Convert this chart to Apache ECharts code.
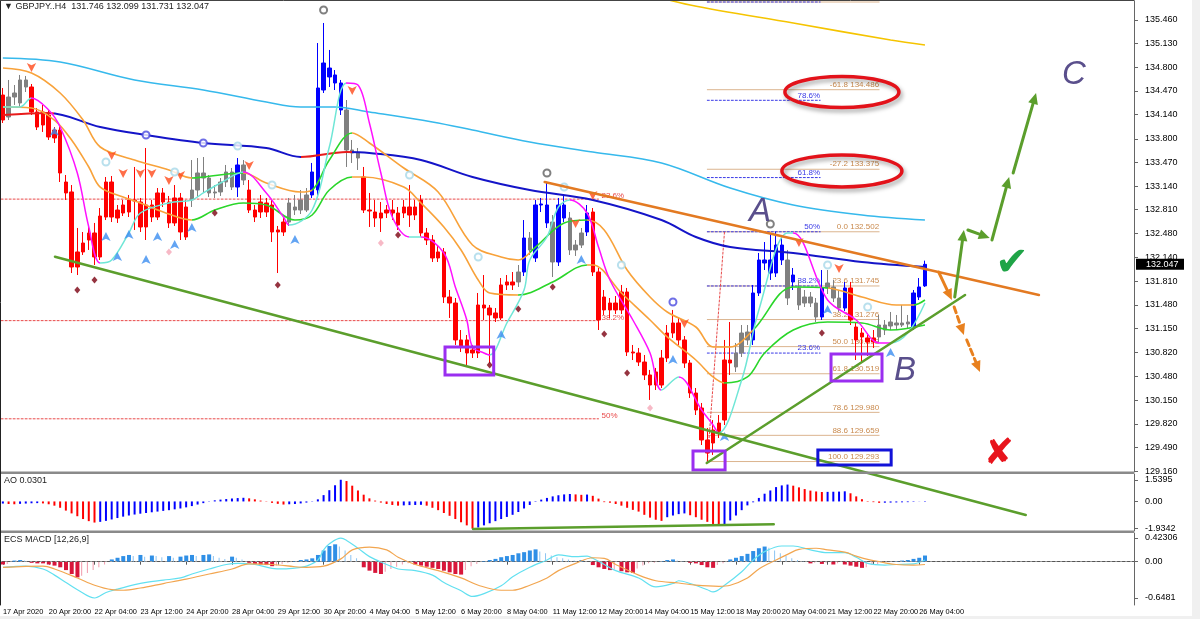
<!DOCTYPE html>
<html><head><meta charset="utf-8">
<script src="https://cdn.jsdelivr.net/npm/echarts@6/dist/echarts.min.js"></script>
<style>html,body{margin:0;padding:0;background:#fff;}#c{width:1200px;height:619px;}</style>
</head><body><div id="c"></div>
<script>
// ---------------- DATA ----------------
const symbolName = 'GBPJPY..H4';
const xTickLabels = ['17 Apr 2020','20 Apr 20:00','22 Apr 04:00','23 Apr 12:00','24 Apr 20:00','28 Apr 04:00','29 Apr 12:00','30 Apr 20:00','4 May 04:00','5 May 12:00','6 May 20:00','8 May 04:00','11 May 12:00','12 May 20:00','14 May 04:00','15 May 12:00','18 May 20:00','20 May 04:00','21 May 12:00','22 May 20:00','26 May 04:00'];
const priceTicks = [135.460,135.130,134.800,134.470,134.140,133.800,133.470,133.140,132.810,132.480,132.140,131.810,131.480,131.150,130.820,130.480,130.150,129.820,129.490,129.160];
const aoTicks = [1.5395, 0, -1.9342];
const aoTickLabels = ['1.5395','0.00','-1.9342'];
const macdTicks = [0.42306, 0, -0.6481];
const macdTickLabels = ['0.42306','0.00','-0.6481'];

const opens = [134.412,134.105,134.384,134.301,134.622,134.524,134.175,133.993,134.133,133.923,
133.923,133.197,133.058,132.010,132.220,132.387,132.485,132.150,132.708,133.197,
132.694,132.764,132.946,132.932,132.918,132.569,132.876,132.708,133.044,132.918,
132.625,132.974,132.429,132.946,133.085,133.323,133.253,133.044,133.058,133.197,
133.337,133.127,133.435,133.085,132.806,132.778,132.904,132.876,132.499,132.499,
132.638,132.848,132.806,132.806,133.016,133.085,134.482,134.789,134.692,134.580,
134.203,133.644,133.602,133.267,132.806,132.778,132.694,132.764,132.806,132.764,
132.764,132.848,132.736,132.946,132.485,132.387,132.136,132.220,131.591,131.507,
130.991,130.991,130.809,130.809,131.479,131.437,131.368,131.298,131.759,131.801,
131.801,131.940,132.415,132.136,132.876,132.625,132.638,132.080,132.694,132.694,
132.248,132.317,132.499,132.778,131.940,131.410,131.507,131.410,131.410,131.661,
130.823,130.809,130.683,130.502,130.362,130.362,130.739,131.088,131.228,130.991,
130.669,130.250,130.041,129.594,129.552,129.692,129.873,130.711,130.614,130.809,
130.991,130.991,131.647,132.066,131.926,131.926,132.108,132.108,131.801,131.717,
131.507,131.591,131.507,131.312,131.717,131.731,131.577,131.437,131.717,131.172,
131.088,131.019,130.963,131.033,131.130,131.186,131.228,131.200,131.214,131.172,
131.591,131.746];
const highs = [134.510,134.622,134.552,134.692,134.678,134.566,134.231,134.273,134.203,133.965,
133.979,133.295,133.155,132.555,132.499,132.597,132.625,132.834,133.267,133.281,
132.876,132.946,133.016,133.407,132.974,133.672,132.946,133.113,133.113,133.002,
133.155,133.044,132.946,133.504,133.532,133.546,133.295,133.155,133.253,133.435,
133.393,133.532,133.504,133.225,132.876,133.016,132.974,132.946,132.583,132.694,
132.974,133.016,133.085,133.113,133.463,135.138,135.418,135.041,134.761,134.622,
134.342,133.784,133.672,133.407,133.044,132.946,132.918,132.876,132.946,132.848,
132.946,133.155,132.946,133.016,132.555,132.457,132.317,132.275,131.689,131.577,
131.130,131.060,130.921,131.647,131.898,131.479,131.437,131.856,131.898,131.940,
132.038,132.666,132.499,132.946,132.974,133.183,132.736,132.974,133.016,132.778,
132.387,132.555,132.876,132.834,131.996,131.689,131.577,131.605,131.759,131.717,
130.921,130.879,130.781,130.572,130.600,130.851,131.200,131.410,131.298,131.046,
130.711,130.320,130.111,129.762,129.873,129.943,130.991,131.242,130.949,131.200,
131.200,131.759,132.206,132.359,132.485,132.502,132.457,132.248,131.996,131.829,
131.689,131.661,131.577,131.968,131.968,131.829,131.689,131.801,131.801,131.242,
131.158,131.088,131.130,131.340,131.270,131.382,131.340,131.479,131.340,131.689,
131.856,132.099];
const lows = [134.021,134.063,134.273,134.231,134.454,134.133,133.923,133.896,133.784,133.742,
133.197,132.946,131.926,131.898,132.178,132.248,132.038,132.108,132.666,132.638,
132.625,132.722,132.708,132.527,132.499,132.387,132.638,132.666,132.848,132.555,
132.583,132.387,132.387,132.848,132.988,133.044,132.988,132.974,133.002,133.127,
133.085,132.988,133.155,132.764,132.638,132.694,132.708,132.359,131.926,132.443,
132.583,132.736,132.750,132.778,132.974,133.016,134.440,134.524,134.482,134.133,
133.407,133.463,133.365,132.764,132.569,132.569,132.499,132.694,132.666,132.527,
132.694,132.569,132.666,132.429,132.317,132.080,132.080,131.507,131.298,130.921,
130.823,130.614,130.739,130.739,131.270,130.669,131.242,131.270,131.689,131.689,
131.731,131.884,132.178,132.080,132.778,132.555,131.870,132.024,132.638,132.178,
132.164,132.275,132.443,131.884,131.130,131.340,131.298,131.354,131.354,130.767,
130.711,130.627,130.432,130.153,130.292,130.320,130.683,131.019,130.921,130.600,
130.181,129.943,129.524,129.293,129.385,129.622,129.803,130.502,130.544,130.753,
130.921,130.921,131.605,131.968,131.829,131.870,132.038,131.479,131.689,131.410,
131.451,131.451,131.242,131.270,131.633,131.521,131.382,131.396,131.200,130.711,
130.683,130.767,130.879,130.963,131.060,131.130,131.130,131.172,131.158,131.130,
131.549,131.731];
const closes = [134.063,134.384,134.440,134.622,134.524,134.175,133.965,134.175,133.826,133.812,
133.323,133.044,132.010,132.220,132.345,132.485,132.150,132.722,133.197,132.708,
132.806,132.876,132.778,132.946,132.569,132.876,132.708,133.044,132.918,132.625,
132.974,132.499,132.848,133.085,133.323,133.253,133.044,133.058,133.197,133.337,
133.127,133.435,133.225,132.806,132.708,132.918,132.778,132.499,132.527,132.638,
132.904,132.806,132.946,133.016,133.337,134.510,134.859,134.664,134.580,134.203,
133.644,133.602,133.532,132.806,132.792,132.694,132.764,132.806,132.764,132.597,
132.848,132.736,132.848,132.485,132.387,132.136,132.220,131.591,131.507,130.991,
130.893,130.809,130.851,131.479,131.437,131.340,131.298,131.759,131.801,131.759,
131.940,132.415,132.248,132.876,132.890,132.876,132.080,132.876,132.876,132.248,
132.317,132.485,132.764,131.940,131.270,131.591,131.410,131.507,131.661,130.823,
130.809,130.683,130.502,130.362,130.544,130.739,131.088,131.228,130.991,130.669,
130.250,130.013,129.594,129.412,129.734,129.831,130.711,130.669,130.809,131.088,
131.102,131.647,132.108,132.108,132.108,132.317,132.317,131.577,131.898,131.479,
131.591,131.507,131.312,131.717,131.787,131.577,131.437,131.717,131.270,130.991,
131.033,130.963,131.019,131.200,131.200,131.242,131.200,131.228,131.242,131.647,
131.731,132.047];
// candle colour state of the trend indicator: r = bearish, b = bullish, g = neutral
const candleTrend = ['r','gggg','rrrrrrrrrrrrrrrrrrrrrrrrrrrr','gggggggg','b','g','rrrrrrr','gggg','bbbbbb','ggg',
 'rrrrrrrrrrrrrrrrrrrrrrrrrrr','g','b','g','bbb','g','bb','ggg','b','rrrrrrrrrrrrrrrrrrrrrrrrr',
 'ggg','bbbbbb','g','b','gggg','b','ggg','b','rrrrr','gggggg','bbb'].join('');

// moving averages: [bar index, price]
const cyanMA = [[0,134.929],[10,134.873],[23,134.622],[35,134.482],[46,134.314],[52,134.245],[58,134.245],[64,134.175],[75,134.035],[82,133.923],[92,133.756],[103,133.616],[115,133.463],[127,133.113],[138,132.876],[150,132.736],[161,132.666]];
const blueMA = [[0,134.133],[8,134.161],[17,133.965],[25,133.854],[35,133.742],[46,133.672],[52,133.546],[60,133.616],[64,133.602],[73,133.504],[82,133.267],[92,133.085],[103,132.946],[115,132.666],[121,132.429],[127,132.289],[138,132.206],[150,132.080],[161,132.010]];
const yellowMA = [[110,135.879],[120,135.669],[138,135.418],[155,135.180],[161,135.111]];
const upperBand = [[0,134.789],[5,134.719],[10,134.440],[14,134.063],[17,133.686],[23,133.504],[29,133.365],[33,133.253],[35,133.267],[42,133.323],[46,133.183],[52,133.058],[54,133.085],[57,133.504],[61,133.882],[64,133.742],[70,133.393],[76,133.058],[82,132.317],[87,132.150],[90,132.108],[93,132.289],[98,132.625],[102,132.666],[105,132.527],[109,131.968],[113,131.591],[116,131.382],[121,131.172],[124,130.893],[127,130.893],[131,131.130],[138,131.731],[144,131.717],[150,131.591],[156,131.479],[159,131.479],[161,131.549]];
const lowerBand = [[0,134.245],[5,134.231],[9,134.063],[12,133.784],[15,133.407],[17,133.127],[21,132.988],[24,132.904],[28,132.778],[33,132.666],[37,132.806],[42,132.904],[46,132.876],[51,132.666],[54,132.736],[57,133.085],[61,133.267],[63,133.267],[70,133.127],[73,132.904],[77,132.569],[80,132.248],[83,131.829],[85,131.647],[90,131.619],[96,131.801],[102,132.038],[103,132.038],[108,131.647],[113,131.270],[116,131.033],[121,130.711],[124,130.474],[126,130.390],[130,130.474],[133,130.809],[138,131.130],[144,131.242],[150,131.228],[155,131.130],[161,131.200]];
const fastLine = [[0,134.245],[3,134.245],[5,134.370],[8,134.203],[10,133.965],[13,133.323],[15,132.569],[17,132.066],[19,132.108],[22,132.485],[24,132.764],[29,132.904],[33,132.946],[35,133.044],[38,133.183],[42,133.337],[46,133.044],[49,132.708],[50,132.597],[54,132.806],[57,133.686],[60,134.580],[62,134.552],[64,134.021],[66,133.323],[68,132.708],[71,132.429],[73,132.429],[77,132.206],[79,131.731],[81,131.270],[82,130.893],[84,130.809],[85,130.781],[88,131.228],[91,131.689],[92,132.108],[95,132.429],[97,132.848],[99,132.946],[102,132.764],[104,132.289],[106,131.829],[110,131.270],[113,130.809],[115,130.292],[118,130.474],[122,130.013],[124,129.803],[125,129.692],[129,130.432],[132,131.410],[137,132.485],[138,132.485],[144,131.549],[149,131.270],[153,130.949],[155,130.949],[158,131.088],[161,131.507]];

// signal markers: [bar index, price]
const upArrows = [[9,133.965],[18,132.499],[20,132.220],[22,132.527],[25,132.178],[27,132.499],[30,132.387],[33,132.625],[51,132.457],[87,131.130],[101,132.178],[117,130.781],[126,129.706],[144,131.479],[155,130.879]];
const downArrows = [[5,134.733],[19,133.504],[21,133.253],[24,133.253],[26,133.253],[29,133.155],[31,133.225],[43,133.365],[61,134.412],[100,132.555],[103,132.946],[119,131.158],[139,132.289],[146,131.926]];
const darkDiamonds = [[13,131.689],[16,131.829],[37,132.764],[48,131.759],[69,132.457],[85,130.641],[90,131.424],[96,131.731],[105,131.075],[109,130.530],[143,131.088]];
const pinkDiamonds = [[29,132.220],[66,132.345],[113,130.041]];
const greyCircles = [[56,135.599],[95,133.323],[134,132.611]];
const blueCircles = [[25,133.854],[35,133.742],[117,131.521]];
const paleCircles = [[18,133.477],[30,133.337],[41,133.700],[47,133.155],[71,133.295],[83,132.150],[98,133.127],[108,132.038],[144,132.038],[151,131.451]];

// Awesome Oscillator
const ao = [-0.15,-0.18,-0.2,-0.17,-0.15,-0.13,-0.12,-0.14,-0.2,-0.3,
-0.45,-0.65,-0.85,-1.05,-1.25,-1.4,-1.5,-1.45,-1.38,-1.28,
-1.18,-1.08,-1.0,-0.93,-0.87,-0.82,-0.77,-0.72,-0.67,-0.62,
-0.56,-0.5,-0.42,-0.33,-0.22,-0.12,0.02,0.08,0.13,0.17,
0.21,0.24,0.26,0.22,0.15,0.06,-0.02,-0.1,-0.17,-0.22,
-0.2,-0.18,-0.14,-0.08,-0.02,0.15,0.45,0.8,1.15,1.5395,
1.45,1.12,0.78,0.48,0.22,0.06,-0.08,-0.18,-0.25,-0.3,
-0.28,-0.26,-0.25,-0.24,-0.3,-0.45,-0.62,-0.82,-1.02,-1.25,
-1.48,-1.7,-1.9342,-1.85,-1.7,-1.55,-1.4,-1.25,-1.1,-0.95,
-0.75,-0.5,-0.25,0.03,0.13,0.25,0.36,0.44,0.5,0.53,
0.5,0.47,0.49,0.4,0.2,-0.05,-0.09,-0.18,-0.3,-0.45,
-0.6,-0.72,-0.95,-1.15,-1.3,-1.38,-1.12,-1.0,-0.9,-0.85,
-0.98,-1.12,-1.3,-1.45,-1.6,-1.72,-1.68,-1.35,-1.0,-0.62,
-0.28,-0.06,0.25,0.55,0.78,1.02,1.14,1.2,1.12,1.0,
0.88,0.77,0.71,0.67,0.68,0.69,0.7,0.72,0.58,0.36,
0.16,0.03,-0.05,-0.1,-0.09,-0.08,-0.07,-0.06,-0.05,-0.03,
-0.01,0.0301];

// ECS MACD histogram + lines
const macdHist = [-0.05,-0.04,0.02,0.03,0.02,-0.02,-0.03,-0.03,-0.05,-0.07,
-0.1,-0.15,-0.22,-0.28,-0.25,-0.2,-0.15,-0.1,-0.05,0.04,
0.07,0.1,0.12,0.1,0.12,0.09,0.11,0.1,0.08,0.1,
0.07,0.09,0.11,0.12,0.1,0.12,0.13,0.1,0.07,0.05,
0.09,0.07,0.04,-0.02,-0.04,-0.05,-0.06,-0.08,-0.07,-0.04,
-0.02,0.01,0.03,0.04,0.06,0.12,0.2,0.28,0.31,0.27,
0.2,0.12,0.06,-0.1,-0.16,-0.2,-0.22,-0.18,-0.13,-0.09,
-0.05,-0.03,-0.05,-0.07,-0.09,-0.11,-0.13,-0.16,-0.19,-0.22,
-0.23,-0.15,-0.08,-0.04,0.01,0.03,0.05,0.08,0.1,0.12,
0.15,0.17,0.2,0.22,0.18,0.15,0.11,0.08,0.06,0.04,
0.02,0.03,0.01,-0.06,-0.1,-0.13,-0.15,-0.14,-0.17,-0.19,
-0.2,-0.12,-0.07,-0.03,-0.02,0.01,0.03,0.04,0.02,0.01,
-0.02,-0.03,-0.06,-0.1,-0.11,-0.06,-0.03,0.04,0.07,0.1,
0.14,0.19,0.24,0.27,0.25,0.2,0.15,0.1,0.06,0.03,
0.01,-0.03,-0.02,-0.04,-0.02,-0.05,-0.03,-0.05,-0.07,-0.09,
-0.11,-0.1,-0.06,-0.04,-0.02,-0.01,0.01,0.02,0.03,0.05,
0.07,0.11];
const macdMain = [[0,-0.10],[4,-0.08],[7,-0.13],[9,-0.24],[11,-0.37],[13,-0.50],[16,-0.648],[18,-0.55],[20,-0.49],[23,-0.41],[25,-0.37],[28,-0.33],[31,-0.29],[33,-0.22],[36,-0.13],[39,-0.05],[41,-0.03],[44,-0.05],[47,-0.12],[49,-0.13],[52,-0.10],[53,-0.08],[55,0.03],[56,0.21],[57,0.32],[59,0.42],[60,0.38],[62,0.24],[64,0.09],[67,-0.05],[69,-0.13],[72,-0.16],[75,-0.24],[77,-0.37],[80,-0.52],[82,-0.62],[84,-0.57],[87,-0.43],[89,-0.27],[92,-0.10],[95,0.03],[97,0.12],[100,0.09],[102,0.10],[103,0.06],[105,-0.05],[107,-0.16],[111,-0.29],[114,-0.45],[117,-0.39],[118,-0.34],[120,-0.39],[123,-0.50],[124,-0.54],[126,-0.42],[129,-0.18],[131,0.03],[133,0.18],[136,0.28],[138,0.28],[141,0.21],[144,0.16],[147,0.16],[149,0.08],[151,-0.03],[154,-0.06],[156,-0.05],[159,-0.04],[161,0.03]];
const macdSignal = [[0,-0.10],[7,-0.08],[9,-0.13],[13,-0.29],[16,-0.42],[19,-0.50],[21,-0.51],[24,-0.47],[28,-0.39],[32,-0.31],[36,-0.22],[40,-0.13],[43,-0.04],[47,-0.05],[51,-0.09],[53,-0.10],[56,-0.08],[59,0.05],[61,0.21],[64,0.26],[67,0.21],[69,0.08],[72,-0.05],[76,-0.16],[80,-0.29],[83,-0.42],[87,-0.51],[89,-0.51],[92,-0.42],[95,-0.29],[97,-0.16],[100,-0.03],[103,0.07],[105,0.06],[107,-0.05],[111,-0.24],[114,-0.34],[118,-0.38],[121,-0.42],[125,-0.44],[127,-0.42],[130,-0.29],[132,-0.13],[135,0.03],[137,0.13],[139,0.22],[142,0.24],[144,0.21],[147,0.17],[149,0.10],[151,0.04],[154,-0.02],[156,-0.05],[159,-0.06],[161,-0.05]];

// Fibonacci levels
const fibExtLevels = [['-100.0',135.711],['-61.8',134.486],['-27.2',133.375],['0.0',132.502],['23.6',131.745],['38.2',131.276],['50.0',130.898],['61.8',130.519],['78.6',129.980],['88.6',129.659],['100.0',129.293]];
const fibRetLevels = [['23.6%',130.808],['38.2%',131.745],['50%',132.502],['61.8%',133.259],['78.6%',134.338],['100%',135.711]];
const fibOldLevels = [['23.6%',132.958],['38.2%',131.261],['50%',129.890]];
const fibExtSpan = [123, 153];
const fibRetSpan = [123, 142.7];
const fibOldSpan = [-1, 104];
const fibAnchor = [[123,129.293],[126,132.502]];

// drawn analysis: [bar index, price]
const channelLine = [[9.1,132.154],[178.6,128.547]];
const supportLine = [[122.9,129.273],[168.0,131.619]];
const resistanceLine = [[94.6,133.197],[180.9,131.619]];
const aoDivergence = [[82.1,-1.95],[134.6,-1.62]];
const bullPath = [[[166.2,131.591],[167.8,132.527]],[[168.5,132.527],[172.3,132.415]],[[172.7,132.387],[175.7,133.267]],[[176.4,133.323],[180.4,134.440]]];
const bearPath = [[[163.4,131.940],[165.7,131.549]],[[166.1,131.451],[167.8,131.060]],[[168.3,130.991],[170.6,130.544]]];
const waveLabels = [['A',132.2,132.778],['B',157.5,130.558],['C',187.0,134.692]];
const zoneBoxes = [[[77.2,130.893],[85.7,130.502]],[[120.5,129.440],[126.1,129.175]],[[144.6,130.795],[153.5,130.418]]];
const targetBox = [[142.3,129.454],[155.1,129.245]];
const ellipseCenters = [[146.5,134.454],[146.5,133.351]];
const checkMark = [176.2,132.038];
const crossMark = [173.9,129.384];

// ---------------- CHART ----------------
const NCAT = 198;
const categories = Array.from({length: NCAT}, (_, i) => String(i));
const FONT = '"Liberation Sans", "DejaVu Sans", sans-serif';
const stateColor = {r:'#ff0000', b:'#0000ff', g:'#808080'};
const candleData = opens.map((o, i) => {
  const col = stateColor[candleTrend[i]] || '#808080';
  return {value:[o, closes[i], lows[i], highs[i]], itemStyle:{color:col, color0:col, borderColor:col, borderColor0:col, borderColorDoji:col}};
});
const aoColors = ao.map((v, i) => (i > 0 && v < ao[i-1]) ? '#ff0000' : '#0000ff');
const strongHist = [], weakHist = [];
macdHist.forEach((h, i) => {
  const prev = i > 0 ? macdHist[i-1] : 0;
  const strong = (h >= 0 && h >= prev) || (h < 0 && h <= prev);
  strongHist.push(strong ? h : '-');
  weakHist.push(strong ? '-' : h);
});

const gridL = -2, gridR = 66;
const hiddenX = (g) => ({type:'category', gridIndex:g, data:categories, boundaryGap:true,
  axisLine:{show:false}, axisTick:{show:false}, axisLabel:{show:false}, splitLine:{show:false}});
const labelFn = (i) => i % 8 === 0 && i / 8 < xTickLabels.length;

const lineS = (data, color, width, z, extra) => Object.assign({type:'line', xAxisIndex:0, yAxisIndex:0, data, showSymbol:false, smooth:0.35,
  lineStyle:color ? {color, width} : {width}, z: z || 3, silent:true, clip:true}, extra || {});
const scatterS = (data, symbol, size, color, extra) => Object.assign({type:'scatter', xAxisIndex:0, yAxisIndex:0, data, symbol, symbolSize:size,
  itemStyle:{color}, z:4, silent:true}, extra || {});

const chart = echarts.init(document.getElementById('c'));
const option = {
  animation:false,
  backgroundColor:'#ffffff',
  grid:[
    {left:gridL, right:gridR, top:1, height:471},
    {left:gridL, right:gridR, top:474, height:57},
    {left:gridL, right:gridR, top:533, height:72}
  ],
  xAxis:[hiddenX(0), hiddenX(1), {
    type:'category', gridIndex:2, data:categories, boundaryGap:true,
    axisLine:{show:true, lineStyle:{color:'#555'}},
    axisTick:{show:true, interval:labelFn, alignWithLabel:true, length:3, lineStyle:{color:'#555'}},
    axisLabel:{show:true, interval:labelFn, showMinLabel:true, showMaxLabel:true, hideOverlap:false, formatter:(v, i) => xTickLabels[i/8] || '', align:'left', margin:3,
      fontSize:7.4, color:'#000', fontFamily:FONT},
    splitLine:{show:false}
  }],
  yAxis:[
    {type:'value', gridIndex:0, position:'right', min:129.147, max:135.725, splitLine:{show:false},
     axisLine:{show:true, lineStyle:{color:'#666'}},
     axisTick:{show:true, length:4, customValues:priceTicks, lineStyle:{color:'#666'}},
     axisLabel:{customValues:priceTicks, formatter:v => v.toFixed(3), fontSize:9, color:'#000', fontFamily:FONT, margin:11}},
    {type:'value', gridIndex:1, position:'right', min:-2.1, max:1.95, splitLine:{show:false},
     axisLine:{show:true, lineStyle:{color:'#666'}},
     axisTick:{show:true, length:4, customValues:aoTicks, lineStyle:{color:'#666'}},
     axisLabel:{customValues:aoTicks, formatter:v => { const k = aoTicks.findIndex(t => Math.abs(t - v) < 1e-6); return k >= 0 ? aoTickLabels[k] : ''; }, fontSize:9, color:'#000', fontFamily:FONT, margin:11}},
    {type:'value', gridIndex:2, position:'right', min:-0.773, max:0.512, splitLine:{show:false},
     axisLine:{show:true, lineStyle:{color:'#666'}},
     axisTick:{show:true, length:4, customValues:macdTicks, lineStyle:{color:'#666'}},
     axisLabel:{customValues:macdTicks, formatter:v => { const k = macdTicks.findIndex(t => Math.abs(t - v) < 1e-6); return k >= 0 ? macdTickLabels[k] : ''; }, fontSize:9, color:'#000', fontFamily:FONT, margin:11}}
  ],
  visualMap:[
    {type:'piecewise', show:false, seriesIndex:2, dimension:0, pieces:[{gte:0,lte:9,color:'#e81c1c'},{gt:9,lt:52,color:'#1414c8'},{gte:52,lte:61,color:'#e81c1c'},{gt:61,lte:200,color:'#1414c8'}]},
    {type:'piecewise', show:false, seriesIndex:4, dimension:0, pieces:[{gte:0,lt:33,color:'#f8a23a'},{gte:33,lte:42,color:'#2ad62a'},{gt:42,lt:54,color:'#f8a23a'},{gte:54,lte:61,color:'#2ad62a'},{gt:61,lt:92,color:'#f8a23a'},{gte:92,lte:102,color:'#2ad62a'},{gt:102,lt:131,color:'#f8a23a'},{gte:131,lte:144,color:'#2ad62a'},{gt:144,lt:159,color:'#f8a23a'},{gte:159,lte:200,color:'#2ad62a'}]},
    {type:'piecewise', show:false, seriesIndex:5, dimension:0, pieces:[{gte:0,lt:33,color:'#f8a23a'},{gte:33,lte:61,color:'#2ad62a'},{gt:61,lt:90,color:'#f8a23a'},{gte:90,lte:102,color:'#2ad62a'},{gt:102,lt:126,color:'#f8a23a'},{gte:126,lte:200,color:'#2ad62a'}]},
    {type:'piecewise', show:false, seriesIndex:6, dimension:0, pieces:[{gte:0,lte:5,color:'#6fe6d6'},{gt:5,lt:17,color:'#ff10ff'},{gte:17,lte:42,color:'#6fe6d6'},{gt:42,lt:50,color:'#ff10ff'},{gte:50,lte:60,color:'#6fe6d6'},{gt:60,lt:71,color:'#ff10ff'},{gte:71,lte:73,color:'#6fe6d6'},{gt:73,lt:85,color:'#ff10ff'},{gte:85,lte:99,color:'#6fe6d6'},{gt:99,lt:115,color:'#ff10ff'},{gte:115,lte:118,color:'#6fe6d6'},{gt:118,lt:125,color:'#ff10ff'},{gte:125,lte:138,color:'#6fe6d6'},{gt:138,lt:155,color:'#ff10ff'},{gte:155,lte:200,color:'#6fe6d6'}]}
  ],
  series:[
    {type:'candlestick', xAxisIndex:0, yAxisIndex:0, data:candleData, barWidth:4, z:2, silent:true},
    lineS(cyanMA, '#36b9ec', 1.6),
    lineS(blueMA, null, 2),
    lineS(yellowMA, '#f5c400', 1.6),
    lineS(upperBand, null, 1.6),
    lineS(lowerBand, null, 1.6),
    lineS(fastLine, null, 1.5, 4),
    scatterS(upArrows, 'arrow', [7,9], '#3b8df0'),
    scatterS(downArrows, 'arrow', [7,9], '#ff4a1a', {symbolRotate:180}),
    scatterS(darkDiamonds, 'diamond', [6,7], '#7a0010'),
    scatterS(pinkDiamonds, 'diamond', [6,7], '#f5a8b8'),
    scatterS(greyCircles, 'emptyCircle', 7, '#606060', {itemStyle:{color:'#606060', borderWidth:1.5}}),
    scatterS(blueCircles, 'emptyCircle', 7, '#4a4ae0', {itemStyle:{color:'#4a4ae0', borderWidth:1}}),
    scatterS(paleCircles, 'emptyCircle', 7, '#a8d8e8', {itemStyle:{color:'#a8d8e8', borderWidth:1}}),
    {type:'bar', xAxisIndex:1, yAxisIndex:1, data:ao, barWidth:2, silent:true,
     itemStyle:{color:(p) => aoColors[p.dataIndex]}},
    {type:'bar', xAxisIndex:2, yAxisIndex:2, data:weakHist, barWidth:1, barGap:'-100%', silent:true,
     itemStyle:{color:(p) => p.value >= 0 ? '#8cc4f2' : '#f19aab'}},
    {type:'bar', xAxisIndex:2, yAxisIndex:2, data:strongHist, barWidth:4, barGap:'-100%', silent:true,
     itemStyle:{color:(p) => p.value >= 0 ? '#2f8fe6' : '#d8163a'},
     markLine:{silent:true, symbol:'none', label:{show:false}, lineStyle:{color:'#9a9a9a', type:[2,3], width:1}, data:[{yAxis:0}]}},
    {type:'line', xAxisIndex:2, yAxisIndex:2, data:macdMain, showSymbol:false, smooth:0.35, lineStyle:{color:'#62e0f0', width:1.2}, z:4, silent:true},
    {type:'line', xAxisIndex:2, yAxisIndex:2, data:macdSignal, showSymbol:false, smooth:0.35, lineStyle:{color:'#f2a650', width:1.2}, z:4, silent:true}
  ]
};
chart.setOption(option);

// ---------------- ANNOTATIONS ----------------
function P(g, i, v) {
  const a = chart.convertToPixel({gridIndex:g}, [0, v]);
  const b = chart.convertToPixel({gridIndex:g}, [100, v]);
  return [a[0] + (b[0] - a[0]) * i / 100, a[1]];
}
const G = [];
function gLine(p0, p1, stroke, lw, dash, z) {
  G.push({type:'line', z:z || 50, silent:true, shape:{x1:p0[0], y1:p0[1], x2:p1[0], y2:p1[1]},
    style:{stroke, lineWidth:lw, lineDash:dash || null, lineCap:'round'}});
}
function gText(text, x, y, fill, font, align, valign, z, extra) {
  G.push({type:'text', z:z || 60, silent:true, x, y,
    style:Object.assign({text, fill, font, align:align || 'left', verticalAlign:valign || 'middle'}, extra || {})});
}
function gArrow(p0, p1, color, lw, dash) {
  const dx = p1[0] - p0[0], dy = p1[1] - p0[1], L = Math.hypot(dx, dy), ux = dx / L, uy = dy / L;
  const hl = 11, hw = 5;
  const base = [p1[0] - ux * hl, p1[1] - uy * hl];
  gLine(p0, base, color, lw, dash, 70);
  G.push({type:'polygon', z:70, silent:true, shape:{points:[p1, [base[0] - uy * hw, base[1] + ux * hw], [base[0] + uy * hw, base[1] - ux * hw]]}, style:{fill:color}});
}

// fib: old retracement (red dotted)
fibOldLevels.forEach(([lab, v]) => {
  const a = P(0, fibOldSpan[0], v), b = P(0, fibOldSpan[1], v);
  gLine(a, b, '#e84a4a', 1, [2,2], 1);
  gText(lab, b[0] + 3, b[1] - 3, '#e84a4a', '8px ' + FONT, 'left', 'middle', 1);
});
// fib: extension levels (tan)
fibExtLevels.forEach(([lab, v]) => {
  const a = P(0, fibExtSpan[0], v), b = P(0, fibExtSpan[1], v);
  gLine(a, b, '#dbb48e', 1, null, 1);
  gText(lab + ' ' + v.toFixed(3), b[0], b[1] - 1, '#c98a4e', '8px ' + FONT, 'right', 'bottom', 1);
});
// fib: retracement levels (blue dotted)
fibRetLevels.forEach(([lab, v]) => {
  const a = P(0, fibRetSpan[0], v), b = P(0, fibRetSpan[1], v);
  gLine(a, b, '#3a3ae6', 1, [2,2], 1);
  gText(lab, b[0], b[1] - 1, '#3a3ae6', '8px ' + FONT, 'right', 'bottom', 1);
});
gLine(P(0, fibAnchor[0][0], fibAnchor[0][1]), P(0, fibAnchor[1][0], fibAnchor[1][1]), '#e84a4a', 1, [2,2], 1);

// trend lines
gLine(P(0, channelLine[0][0], channelLine[0][1]), P(0, channelLine[1][0], channelLine[1][1]), '#5b9e2c', 2.5, null, 40);
gLine(P(0, supportLine[0][0], supportLine[0][1]), P(0, supportLine[1][0], supportLine[1][1]), '#5b9e2c', 2.5, null, 40);
gLine(P(0, resistanceLine[0][0], resistanceLine[0][1]), P(0, resistanceLine[1][0], resistanceLine[1][1]), '#e37a22', 2.5, null, 40);
gLine(P(1, aoDivergence[0][0], aoDivergence[0][1]), P(1, aoDivergence[1][0], aoDivergence[1][1]), '#5b9e2c', 2.5, null, 40);

// projection arrows
bullPath.forEach(s => gArrow(P(0, s[0][0], s[0][1]), P(0, s[1][0], s[1][1]), '#5b9e2c', 3, null));
bearPath.forEach((s, k) => gArrow(P(0, s[0][0], s[0][1]), P(0, s[1][0], s[1][1]), '#e8801e', 3, k === 0 ? null : [6,4]));

// boxes
zoneBoxes.forEach(b => {
  const p0 = P(0, b[0][0], b[0][1]), p1 = P(0, b[1][0], b[1][1]);
  G.push({type:'rect', z:45, silent:true, shape:{x:p0[0], y:p0[1], width:p1[0]-p0[0], height:p1[1]-p0[1]}, style:{fill:'none', stroke:'#9a2ef0', lineWidth:3}});
});
{
  const p0 = P(0, targetBox[0][0], targetBox[0][1]), p1 = P(0, targetBox[1][0], targetBox[1][1]);
  G.push({type:'rect', z:45, silent:true, shape:{x:p0[0], y:p0[1], width:p1[0]-p0[0], height:p1[1]-p0[1]}, style:{fill:'none', stroke:'#1212d8', lineWidth:3}});
}
// ellipses
ellipseCenters.forEach((c, k) => {
  const p = P(0, c[0], c[1]);
  G.push({type:'ellipse', z:55, silent:true, shape:{cx:p[0], cy:p[1], rx:k === 0 ? 57 : 60, ry:k === 0 ? 15.5 : 16},
    style:{fill:'none', stroke:'#e3121a', lineWidth:3.5, shadowBlur:4, shadowColor:'rgba(0,0,0,0.35)', shadowOffsetX:2, shadowOffsetY:3}});
});
// wave labels
waveLabels.forEach(([t, i, v]) => {
  const p = P(0, i, v);
  gText(t, p[0], p[1], '#5a4f8c', 'italic 33px ' + FONT, 'center', 'middle', 80);
});
{
  const p = P(0, checkMark[0], checkMark[1]);
  gText('\u2714', p[0], p[1], '#1fa447', '40px "DejaVu Sans"', 'center', 'middle', 80, {shadowBlur:3, shadowColor:'rgba(0,0,0,0.45)', shadowOffsetX:2, shadowOffsetY:2});
  const q = P(0, crossMark[0], crossMark[1]);
  gText('\u2718', q[0], q[1], '#e8141c', 'bold 36px "DejaVu Sans"', 'center', 'middle', 80, {shadowBlur:3, shadowColor:'rgba(0,0,0,0.45)', shadowOffsetX:2, shadowOffsetY:2});
}

// frame and pane separators
const plotRight = 1200 - gridR;
G.push({type:'rect', z:90, silent:true, shape:{x:0, y:471.5, width:plotRight, height:2.5}, style:{fill:'#8a8a8a'}});
G.push({type:'rect', z:90, silent:true, shape:{x:0, y:530.5, width:plotRight, height:2.5}, style:{fill:'#8a8a8a'}});
gLine([0.5, 0], [0.5, 605], '#222', 1, null, 90);
gLine([0, 0.5], [plotRight, 0.5], '#444', 1, null, 90);
G.push({type:'rect', z:0, silent:true, shape:{x:1192, y:0, width:8, height:619}, style:{fill:'#f0f0f0'}});
G.push({type:'rect', z:0, silent:true, shape:{x:0, y:616, width:1200, height:3}, style:{fill:'#f0f0f0'}});

// current price tag and pane captions
{
  const last = closes.length - 1;
  const p = P(0, 0, closes[last]);
  G.push({type:'rect', z:95, silent:true, shape:{x:plotRight + 2, y:p[1] - 5.5, width:48, height:11}, style:{fill:'#000'}});
  gText(closes[last].toFixed(3), plotRight + 12, p[1], '#fff', '9px ' + FONT, 'left', 'middle', 96);
  gText('\u25BC ' + symbolName + '  ' + opens[last].toFixed(3) + ' ' + highs[last].toFixed(3) + ' ' + lows[last].toFixed(3) + ' ' + closes[last].toFixed(3),
        4, 7, '#222', '9px ' + FONT, 'left', 'middle', 96);
  gText('AO ' + ao[last], 4, 481, '#222', '9px ' + FONT, 'left', 'middle', 96);
  gText('ECS MACD [12,26,9]', 4, 540, '#222', '9px ' + FONT, 'left', 'middle', 96);
}
chart.setOption({graphic:G});
</script>
</body></html>
